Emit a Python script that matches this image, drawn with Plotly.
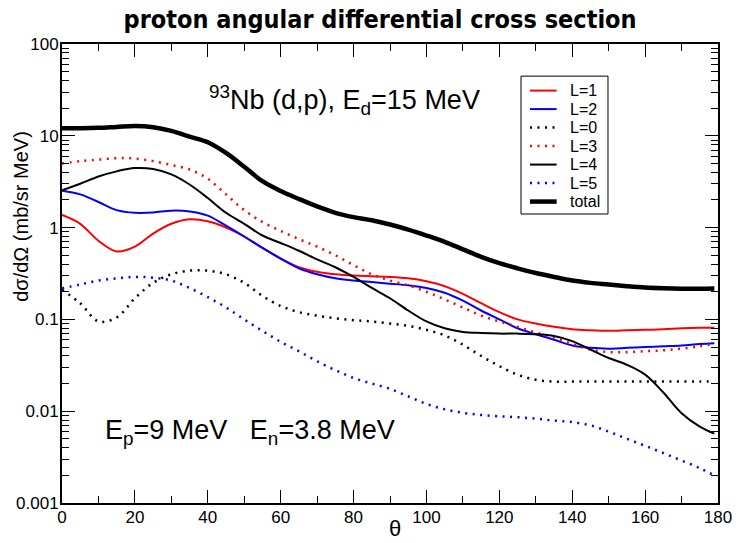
import plotly.graph_objects as go

# Scattering angle (degrees) at which each partial-wave cross section is tabulated
theta = [0, 5, 10, 15, 20, 25, 30, 35, 40, 45, 50, 55, 60, 65, 70, 75, 80, 85, 90,
         95, 100, 105, 110, 115, 120, 125, 130, 135, 140, 145, 150, 155, 160, 165,
         170, 175, 179]

# dsigma/dOmega (mb/sr MeV) for each transferred angular momentum L
sig_L1 = [1.37, 1.1, 0.72, 0.55, 0.62, 0.86, 1.1, 1.23, 1.17, 1.0, 0.8, 0.6, 0.46,
          0.37, 0.33, 0.31, 0.3, 0.295, 0.29, 0.28, 0.26, 0.23, 0.19, 0.15, 0.12,
          0.1, 0.09, 0.083, 0.078, 0.076, 0.075, 0.076, 0.077, 0.078, 0.08, 0.081, 0.081]
sig_L2 = [2.52, 2.3, 1.9, 1.55, 1.45, 1.46, 1.53, 1.5, 1.35, 1.05, 0.8, 0.6, 0.46,
          0.36, 0.31, 0.28, 0.265, 0.255, 0.245, 0.235, 0.22, 0.195, 0.16, 0.125,
          0.1, 0.08, 0.069, 0.06, 0.052, 0.049, 0.048, 0.049, 0.05, 0.051, 0.052,
          0.054, 0.055]
sig_L0 = [0.21, 0.15, 0.095, 0.105, 0.17, 0.25, 0.31, 0.34, 0.34, 0.31, 0.25, 0.18,
          0.14, 0.12, 0.11, 0.103, 0.098, 0.095, 0.09, 0.085, 0.077, 0.067, 0.053,
          0.04, 0.031, 0.025, 0.022, 0.021, 0.021, 0.021, 0.021, 0.021, 0.021,
          0.021, 0.021, 0.021, 0.021]
sig_L3 = [5.0, 5.3, 5.5, 5.7, 5.65, 5.3, 4.8, 4.3, 3.4, 2.3, 1.55, 1.15, 0.92, 0.75,
          0.62, 0.5, 0.39, 0.31, 0.265, 0.235, 0.2, 0.165, 0.135, 0.11, 0.095,
          0.083, 0.072, 0.063, 0.054, 0.047, 0.044, 0.044, 0.045, 0.046, 0.048,
          0.051, 0.054]
sig_L4 = [2.55, 3.0, 3.6, 4.1, 4.45, 4.35, 3.8, 2.95, 2.1, 1.45, 1.1, 0.82, 0.68,
          0.56, 0.45, 0.37, 0.29, 0.22, 0.17, 0.125, 0.095, 0.08, 0.073, 0.071,
          0.07, 0.07, 0.069, 0.066, 0.058, 0.047, 0.038, 0.032, 0.025, 0.016,
          0.0095, 0.0068, 0.0057]
sig_L5 = [0.218, 0.24, 0.265, 0.28, 0.29, 0.285, 0.265, 0.22, 0.175, 0.135, 0.1,
          0.075, 0.057, 0.045, 0.035, 0.028, 0.023, 0.02, 0.0175, 0.0145, 0.012,
          0.0105, 0.0096, 0.0091, 0.0088, 0.0086, 0.0083, 0.0079, 0.0076, 0.007,
          0.006, 0.005, 0.0042, 0.0035, 0.0029, 0.0024, 0.002]
sig_total = [12.1, 12.1, 12.2, 12.5, 12.8, 12.4, 11.3, 9.8, 8.5, 6.5, 4.6, 3.2, 2.5,
             2.05, 1.7, 1.45, 1.3, 1.2, 1.08, 0.95, 0.82, 0.7, 0.58, 0.48, 0.41,
             0.36, 0.32, 0.29, 0.265, 0.25, 0.24, 0.23, 0.222, 0.218, 0.216,
             0.216, 0.217]

y_tickvals = [0.001, 0.01, 0.1, 1, 10, 100]
y_ticktext = ["0.001", "0.01", "0.1", "1", "10", "100"]
y_minor = [m * 10.0 ** e for e in range(-3, 2) for m in range(2, 10)]

DOT = "2px,5.5px"
series = [
    ("L=1", sig_L1, "#ff0000", "solid", 2),
    ("L=2", sig_L2, "#0000ff", "solid", 2),
    ("L=0", sig_L0, "#000000", DOT, 2.5),
    ("L=3", sig_L3, "#ff0000", DOT, 2.5),
    ("L=4", sig_L4, "#000000", "solid", 2),
    ("L=5", sig_L5, "#0000ff", DOT, 2.5),
    ("total", sig_total, "#000000", "solid", 4.5),
]

FONT = "Liberation Sans, Arial, sans-serif"

fig = go.Figure()
for name, vals, color, dash, width in series:
    fig.add_trace(go.Scatter(
        x=theta, y=vals, name=name, mode="lines", showlegend=False,
        line=dict(color=color, dash=dash, width=width, shape="spline", smoothing=1.0),
    ))

# Compact boxed key in the upper right of the plotting area
KEY_LEFT, KEY_RIGHT = 0.6997, 0.8323
KEY_TOP, KEY_BOTTOM = 0.930, 0.6296
KEY_FIRST, KEY_STEP = 0.8985, 0.0403
fig.add_shape(type="rect", xref="paper", yref="paper",
              x0=KEY_LEFT, x1=KEY_RIGHT, y0=KEY_BOTTOM, y1=KEY_TOP,
              line=dict(color="black", width=1), fillcolor="white", layer="above")
for i, (name, vals, color, dash, width) in enumerate(series):
    yk = KEY_FIRST - i * KEY_STEP
    fig.add_shape(type="line", xref="paper", yref="paper",
                  x0=0.7134, x1=0.7540, y0=yk, y1=yk, layer="above",
                  line=dict(color=color, dash=dash, width=width))
    fig.add_annotation(text=name, xref="paper", yref="paper", x=0.7720, y=yk,
                       xanchor="left", yanchor="middle", showarrow=False,
                       font=dict(family=FONT, size=16, color="black"))

fig.update_layout(
    width=738, height=543,
    paper_bgcolor="white", plot_bgcolor="white",
    margin=dict(l=62, r=20, t=44, b=40),
    title=dict(
        text="<b>proton angular differential cross section</b>",
        x=0.515, xanchor="center", y=0.965, yanchor="middle",
        font=dict(family="DejaVu Sans Condensed, DejaVu Sans, sans-serif", size=25, color="black"),
    ),
    font=dict(family=FONT, color="black"),
    showlegend=False,
)

fig.update_xaxes(
    range=[0, 180], dtick=20, tick0=0, automargin=False,
    showline=True, linecolor="black", linewidth=2, mirror="ticks",
    ticks="inside", ticklen=13, tickwidth=1.2, tickcolor="black",
    minor=dict(dtick=10, ticks="inside", ticklen=7, tickwidth=1.2, tickcolor="black"),
    showgrid=False, zeroline=False, ticklabelstandoff=-2,
    tickfont=dict(family=FONT, size=17),
)
fig.update_yaxes(
    type="log", range=[-3, 2], automargin=False,
    tickmode="array", tickvals=y_tickvals, ticktext=y_ticktext,
    showline=True, linecolor="black", linewidth=2, mirror="ticks",
    ticks="inside", ticklen=13, tickwidth=1.2, tickcolor="black",
    minor=dict(tickmode="array", tickvals=y_minor, ticks="inside", ticklen=7,
               tickwidth=1.2, tickcolor="black"),
    showgrid=False, zeroline=False, ticklabelstandoff=-2,
    tickfont=dict(family=FONT, size=17),
)

# Axis titles
fig.add_annotation(
    text="θ", xref="paper", yref="paper", x=0.508, y=-0.056,
    xanchor="center", yanchor="middle", showarrow=False,
    font=dict(family=FONT, size=22, color="black"),
)
fig.add_annotation(
    text="dσ/dΩ (mb/sr MeV)", textangle=-90, xref="paper", yref="paper",
    x=-0.063, y=0.625, xanchor="center", yanchor="middle", showarrow=False,
    font=dict(family=FONT, size=20, color="black"),
)

fig.add_annotation(
    text="<sup>93</sup>Nb (d,p), E<sub>d</sub>=15 MeV",
    xref="paper", yref="paper", x=0.430, y=0.878, xanchor="center", yanchor="middle",
    showarrow=False, font=dict(family=FONT, size=27, color="black"),
)
fig.add_annotation(
    text="E<sub>p</sub>=9 MeV   E<sub>n</sub>=3.8 MeV",
    xref="paper", yref="paper", x=0.286, y=0.154, xanchor="center", yanchor="middle",
    showarrow=False, font=dict(family=FONT, size=27, color="black"),
)

fig.write_html("out.html")
